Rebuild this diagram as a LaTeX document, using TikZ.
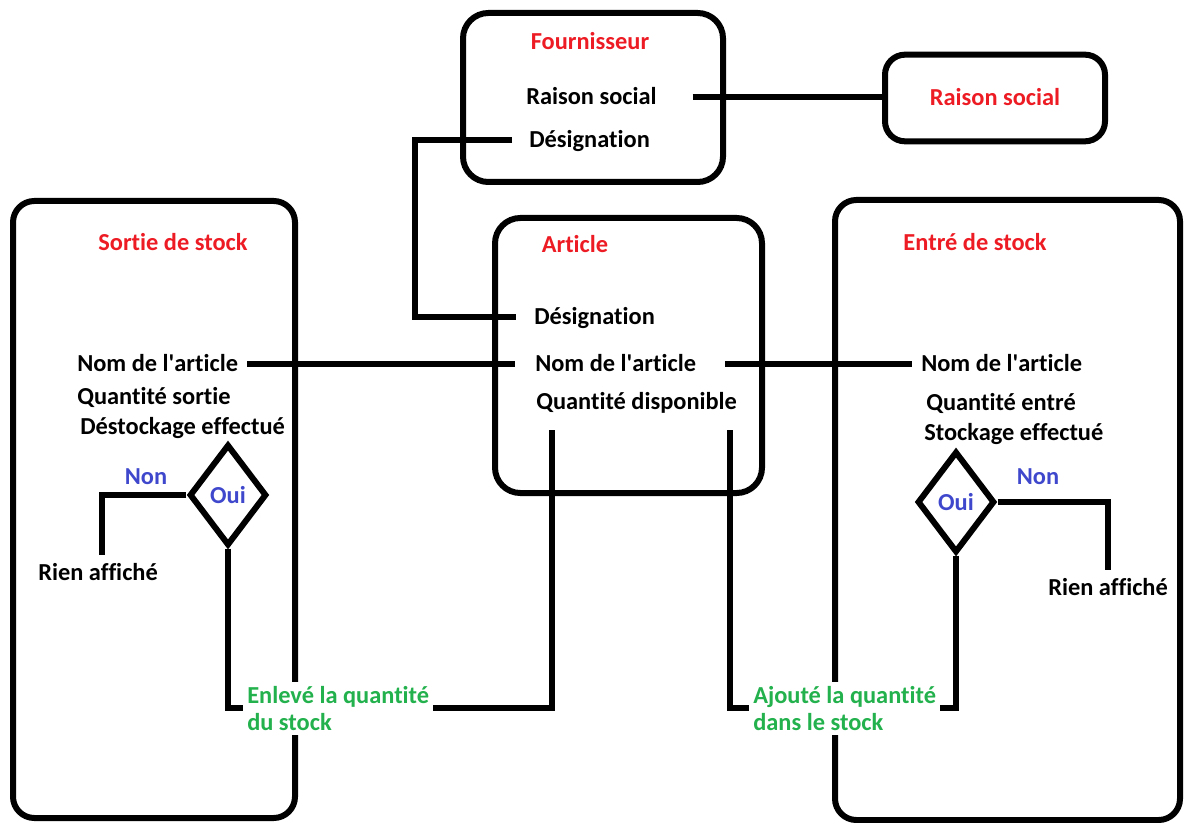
\documentclass[tikz,border=0pt]{standalone}
\usepackage{fontspec}
\setmainfont{Carlito}[Ligatures={NoCommon}]
\usepackage{tikz}
\usetikzlibrary{shapes.geometric}

\definecolor{rouge}{RGB}{237,28,36}
\definecolor{bleu}{RGB}{63,72,204}
\definecolor{vert}{RGB}{34,177,76}
\newcommand\policediag{\bfseries\fontsize{18.3}{20.3}\selectfont}

\begin{document}
\begin{tikzpicture}[x=0.75pt,y=0.75pt,yscale=-1,xscale=1,
  trait/.style={line width=4.5pt},
  texte/.style={font=\policediag,inner sep=0.75pt,text height=11.6pt,text depth=0pt},
  titre/.style={texte,text=rouge},
  champ/.style={texte,anchor=west},
  choix/.style={texte,text=bleu},
  action/.style={anchor=north west,text=vert,fill=white,font=\policediag,align=left,inner sep=3pt},
  losange/.style={diamond,draw,trait,minimum width=58pt,minimum height=76pt,inner sep=0pt,text=bleu,font=\policediag}]
\useasboundingbox (0,0) rectangle (1184,823);

%Fournisseur
\draw[trait,rounded corners=19pt] (463,13) rectangle (723,182);
\node[titre] (fourn) at (590,42) {Fournisseur};
\node[champ] (raisF) at (525,97) {Raison social};
\node[champ] (desF) at (528,140) {Désignation};
\node[titre,draw,trait,rounded corners=15pt,minimum width=165pt,minimum height=65pt] (raisR) at (995,98) {Raison social};

%Article
\draw[trait,rounded corners=19pt] (495,218) rectangle (762,493);
\node[titre] (art) at (575,245) {Article};
\node[champ] (desA) at (533,317) {Désignation};
\node[champ] (nomA) at (534,364) {Nom de l\textquotesingle article};
\node[champ] (qteA) at (535,402) {Quantité disponible};
\coordinate (sortA) at (552,430);
\coordinate (entA) at (730,430);

%Sortie de stock
\draw[trait,rounded corners=16pt] (13,201) rectangle (295,818);
\node[titre] (sortie) at (173,243) {Sortie de stock};
\node[champ] (nomS) at (76,364) {Nom de l\textquotesingle article};
\node[champ] (qteS) at (76,397) {Quantité sortie};
\node[champ] (okS) at (79,427) {Déstockage effectué};
\node[losange] (losS) at (228,495) {Oui};
\node[choix] (nonS) at (146,477) {Non};
\node[champ] (rienS) at (37,573) {Rien affiché};
\node[action] (enleve) at (243,682) {Enlevé la quantité\\du stock};

%Entre de stock
\draw[trait,rounded corners=16pt] (835,200) rectangle (1180,820);
\node[titre] (entree) at (975,243) {Entré de stock};
\node[champ] (nomE) at (920,364) {Nom de l\textquotesingle article};
\node[champ] (qteE) at (925,403) {Quantité entré};
\node[champ] (okE) at (923,433) {Stockage effectué};
\node[losange] (losE) at (956,502) {Oui};
\node[choix] (nonE) at (1038,477) {Non};
\node[champ] (rienE) at (1047,588) {Rien affiché};
\node[action] (ajoute) at (749,682) {Ajouté la quantité\\dans le stock};

%Liens
\draw[trait,shorten <=26pt] (raisF.east) -- (raisR.west |- raisF.east);
\draw[trait,shorten <=12pt,shorten >=13pt] (desF.west) -- ++(-113,0) |- (desA.west);
\draw[trait,shorten <=6pt,shorten >=14pt] (nomS.east) -- (nomA.west);
\draw[trait,shorten <=21pt,shorten >=6pt] (nomA.east) -- (nomE.west);
\draw[trait,shorten >=7pt] (losS.west) -| ([xshift=3pt]rienS.north);
\draw[trait,shorten >=7pt] (losE.east) -| (rienE.north);
\draw[trait] (losS.south) |- (enleve.west);
\draw[trait] (enleve.east) -| (sortA);
\draw[trait] (entA) |- (ajoute.west);
\draw[trait] (losE.south) |- (ajoute.east);

\end{tikzpicture}
\end{document}
